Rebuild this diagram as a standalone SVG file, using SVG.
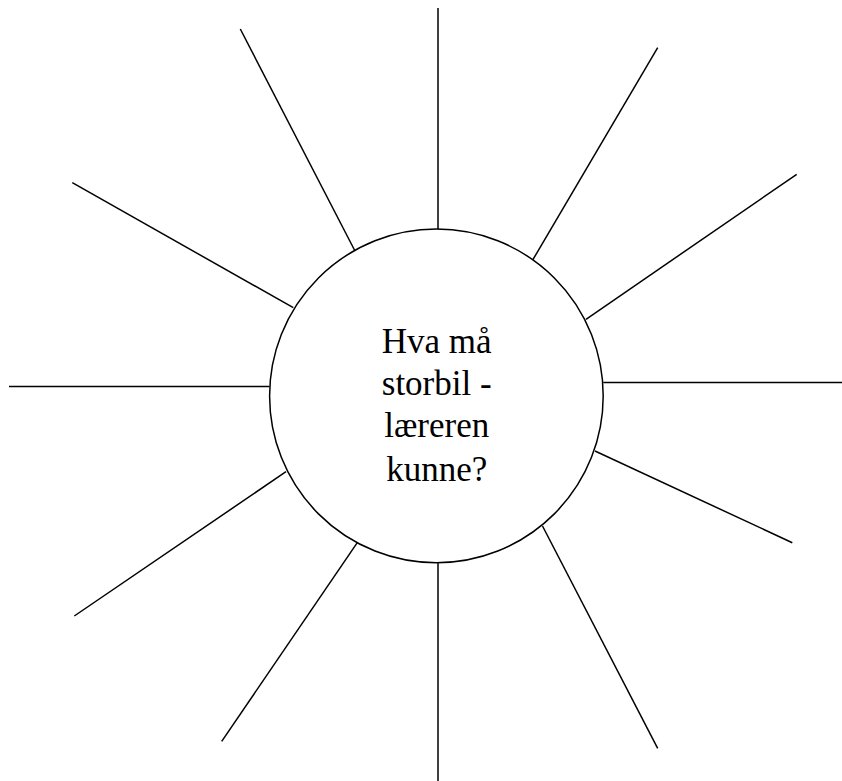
<svg xmlns="http://www.w3.org/2000/svg" width="842" height="781" viewBox="0 0 842 781">
  <style>
    .ray { stroke: #000; stroke-width: 1.5; fill: none; }
    .hub { stroke: #000; stroke-width: 1.5; fill: #fff; }
    .lbl { font-family: "Liberation Serif", "Times New Roman", serif; font-size: 35px; fill: #000; text-anchor: middle; }
  </style>
  <rect width="842" height="781" fill="#fff"/>
  <g id="connectors">
    <line class="ray" x1="438" y1="8" x2="438" y2="230"/>
    <line class="ray" x1="240.3" y1="29" x2="355" y2="251"/>
    <line class="ray" x1="657.7" y1="47.7" x2="532.3" y2="260.7"/>
    <line class="ray" x1="72.3" y1="182.7" x2="293.3" y2="307.7"/>
    <line class="ray" x1="796.7" y1="174.3" x2="586" y2="319.3"/>
    <line class="ray" x1="9" y1="386.5" x2="269.5" y2="386.5"/>
    <line class="ray" x1="603.3" y1="382.5" x2="842" y2="382.5"/>
    <line class="ray" x1="74.3" y1="616" x2="286" y2="471.7"/>
    <line class="ray" x1="595" y1="451" x2="792.3" y2="542.7"/>
    <line class="ray" x1="221.7" y1="741.3" x2="357.3" y2="542.7"/>
    <line class="ray" x1="542.5" y1="526" x2="657.7" y2="748.3"/>
    <line class="ray" x1="438" y1="561.7" x2="438" y2="781"/>
  </g>
  <g id="center">
    <circle class="hub" cx="436.4" cy="395.9" r="166.8"/>
    <text class="lbl" x="436.7" y="352.7">Hva må</text>
    <text class="lbl" x="436.7" y="395">storbil -</text>
    <text class="lbl" x="436.7" y="437">læreren</text>
    <text class="lbl" x="436.7" y="480.5">kunne?</text>
  </g>
</svg>
